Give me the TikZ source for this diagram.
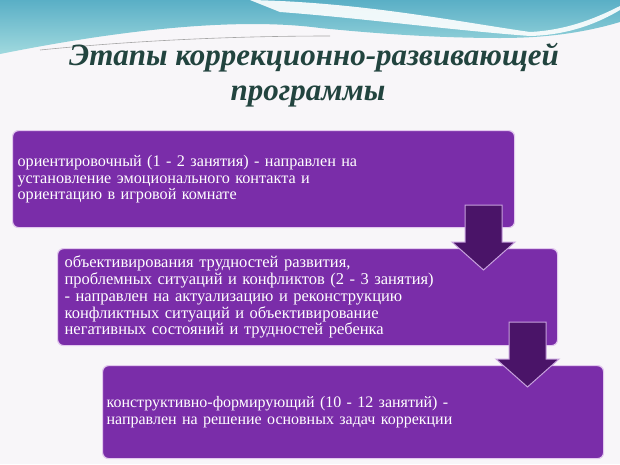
\documentclass[tikz,border=0pt]{standalone}
\usepackage{fontspec}
\setmainfont{Liberation Serif}
\definecolor{bgcol}{HTML}{F8F6F9}
\definecolor{boxfill}{HTML}{7A2DA9}
\definecolor{arrowfill}{HTML}{4A1468}
\definecolor{glow}{HTML}{E2C8EE}
\definecolor{arrowedge}{HTML}{C7A0DD}
\definecolor{titlecol}{HTML}{22443F}
\definecolor{tealtop}{HTML}{5AAFC6}
\definecolor{tealbot}{HTML}{A0D9DE}
\tikzset{
  stagebox/.style={fill=boxfill, draw=glow, line width=1.2pt, rounded corners=6pt,
    text=white, align=left, anchor=north west, inner ysep=2pt},
  titletext/.style={text=titlecol, font=\fontsize{31}{35}\selectfont\bfseries\itshape, anchor=base, inner sep=0pt},
  downarrow/.pic={\draw[fill=arrowfill, draw=arrowedge, line width=1pt]
     (-18.5,0) -- (18.5,0) -- (18.5,37) -- (31.5,37) -- (0,65) -- (-31.5,37) -- (-18.5,37) -- cycle;}
}
\begin{document}
\begin{tikzpicture}[x=1pt,y=-1pt]
\useasboundingbox (0,0) rectangle (620,464);
\fill[bgcol] (0,0) rectangle (620,464);
% teal wave
\shade[top color=tealtop, bottom color=tealbot]
  (0,0) -- (620,0) -- (620,22)
  .. controls (580,34) and (540,38) .. (500,38)
  .. controls (440,38) and (380,34) .. (320,28)
  .. controls (260,20) and (160,22) .. (0,54) -- cycle;
% white swoosh
\fill[white, opacity=0.9]
  (250,0) .. controls (360,2) and (460,22) .. (530,32)
  .. controls (570,30) and (600,16) .. (620,6) -- (620,10)
  .. controls (600,22) and (570,35) .. (530,36)
  .. controls (450,30) and (360,18) .. (280,12)
  .. controls (270,8) and (260,4) .. (250,0) -- cycle;
\draw[gray!70, line width=0.6pt] (40,50) .. controls (120,42) and (220,36) .. (330,36);
% title
\node[titletext] (t1) at (314,65) {Этапы коррекционно-развивающей};
\node[titletext] (t2) at (308,100) {программы};
% boxes
\node[stagebox, inner xsep=5pt, text width=492pt, minimum height=97pt,
      font=\fontsize{16.2}{16.2}\selectfont] (b1) at (12,130)
  {ориентировочный (1 - 2 занятия) - направлен на\\
   установление эмоционального контакта и\\
   ориентацию в игровой комнате};
\node[stagebox, inner xsep=7pt, text width=486pt, minimum height=97pt,
      font=\fontsize{16.5}{16.8}\selectfont] (b2) at (57,248)
  {объективирования трудностей развития,\\
   проблемных ситуаций и конфликтов (2 - 3 занятия)\\
   - направлен на актуализацию и реконструкцию\\
   конфликтных ситуаций и объективирование\\
   негативных состояний и трудностей ребенка};
\node[stagebox, inner xsep=4pt, text width=493pt, minimum height=93pt,
      font=\fontsize{16}{16.5}\selectfont] (b3) at (102,365)
  {конструктивно-формирующий (10 - 12 занятий) -\\
   направлен на решение основных задач коррекции};
% arrows
\pic at (483.5,205) {downarrow};
\pic at (527.5,322) {downarrow};
\end{tikzpicture}
\end{document}
